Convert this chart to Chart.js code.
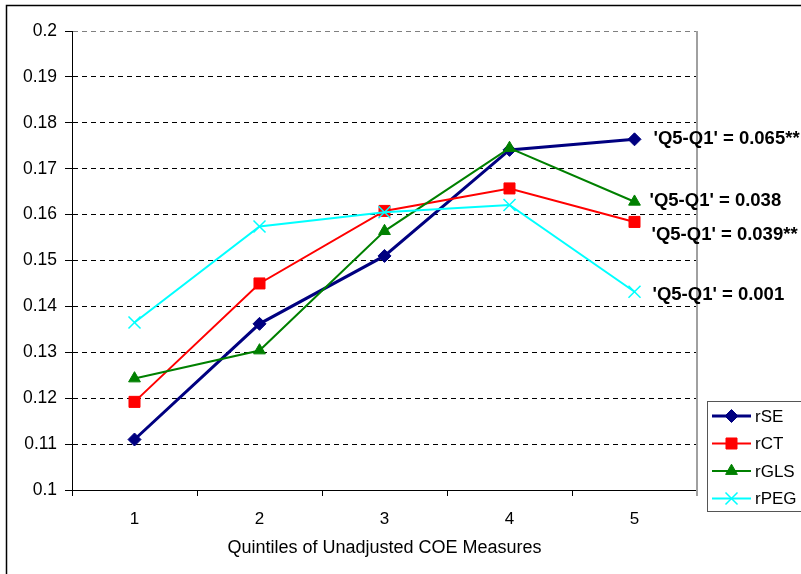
<!DOCTYPE html>
<html>
<head>
<meta charset="utf-8">
<script src="https://cdn.jsdelivr.net/npm/chart.js@4.4.0/dist/chart.umd.min.js"></script>
<style>
  html, body { margin: 0; padding: 0; background: #fff; }
  #wrap { width: 801px; height: 574px; }
</style>
</head>
<body>
<div id="wrap"><canvas id="coeChart" width="801" height="574"></canvas></div>
<script>
// Data
const quintiles = ['1', '2', '3', '4', '5'];
const rSE  = [0.1110, 0.1362, 0.1510, 0.1741, 0.1764];
const rCT  = [0.1192, 0.1450, 0.1608, 0.1657, 0.1584];
const rGLS = [0.1243, 0.1304, 0.1564, 0.1745, 0.1628];
const rPEG = [0.1365, 0.1574, 0.1605, 0.1621, 0.1432];
const seriesNames = ['rSE', 'rCT', 'rGLS', 'rPEG'];
const spreadLabels = ["'Q5-Q1' = 0.065**", "'Q5-Q1' = 0.039**", "'Q5-Q1' = 0.038", "'Q5-Q1' = 0.001"];
const yTickLabels = ['0.1', '0.11', '0.12', '0.13', '0.14', '0.15', '0.16', '0.17', '0.18', '0.19', '0.2'];

const FONT = "'Liberation Sans', Arial, sans-serif";

// outer frame + right plot border
const framePlugin = {
    id: 'frame',
    beforeDraw(chart) {
        const ctx = chart.ctx;
        ctx.save();
        ctx.fillStyle = '#fff';
        ctx.fillRect(0, 0, chart.width, chart.height);
        ctx.strokeStyle = '#000';
        ctx.lineWidth = 1.5;
        ctx.strokeRect(6.5, 5.5, 900, 900);
        ctx.restore();
    },
    beforeDatasetsDraw(chart) {
        const {ctx, chartArea} = chart;
        ctx.save();
        ctx.strokeStyle = '#a0a0a0';
        ctx.lineWidth = 2;
        ctx.beginPath();
        ctx.moveTo(chartArea.right, chartArea.top);
        ctx.lineTo(chartArea.right, chartArea.bottom + 6);
        ctx.stroke();
        ctx.restore();
    }
};

// Q5-Q1 labels next to the last point, and the boxed legend
const labelPlugin = {
    id: 'spreadLabels',
    afterDatasetsDraw(chart) {
        const ctx = chart.ctx;
        const offs = [[19, 0], [17, 13], [15, -1], [18, 3]];
        ctx.save();
        ctx.font = 'bold 18.5px ' + FONT;
        ctx.fillStyle = '#000';
        ctx.textBaseline = 'middle';
        ctx.textAlign = 'left';
        chart.data.datasets.forEach((ds, i) => {
            const pt = chart.getDatasetMeta(i).data[4];
            ctx.fillText(spreadLabels[i], pt.x + offs[i][0], pt.y + offs[i][1]);
        });

        // legend
        ctx.fillStyle = '#fff';
        ctx.fillRect(707, 401, 100, 111);
        ctx.strokeStyle = '#555';
        ctx.lineWidth = 1;
        ctx.strokeRect(707.5, 401.5, 100, 110);
        ctx.font = '17px ' + FONT;
        chart.data.datasets.forEach((ds, i) => {
            const y = 416 + i * 27.5;
            ctx.strokeStyle = ds.borderColor;
            ctx.lineWidth = ds.borderWidth;
            ctx.beginPath();
            ctx.moveTo(712, y);
            ctx.lineTo(751, y);
            ctx.stroke();
            ctx.fillStyle = ds.pointBackgroundColor;
            ctx.strokeStyle = ds.pointBorderColor;
            ctx.lineWidth = ds.pointBorderWidth;
            Chart.helpers.drawPoint(ctx, {
                pointStyle: ds.pointStyle, radius: ds.pointRadius,
                borderWidth: ds.pointBorderWidth, rotation: 0
            }, 731.5, y);
            ctx.fillStyle = '#000';
            ctx.fillText(seriesNames[i], 755, y + 1);
        });
        ctx.restore();
    }
};

function series(label, data, color, width, style, radius, bw, order) {
    return {
        label: label,
        data: data,
        borderColor: color,
        borderWidth: width,
        backgroundColor: color,
        pointStyle: style,
        pointRadius: radius,
        pointHoverRadius: radius,
        pointBackgroundColor: color,
        pointBorderColor: color,
        pointBorderWidth: bw,
        tension: 0,
        order: order
    };
}

new Chart(document.getElementById('coeChart'), {
    type: 'line',
    data: {
        labels: quintiles,
        datasets: [
            series('rSE', rSE, '#000080', 3, 'rectRot', 6.5, 1, 4),
            series('rCT', rCT, '#ff0000', 2, 'rect', 7.8, 1, 3),
            series('rGLS', rGLS, '#008000', 2, 'triangle', 6.8, 1, 2),
            series('rPEG', rPEG, '#00ffff', 2, 'crossRot', 8.5, 1.5, 1)
        ]
    },
    options: {
        responsive: false,
        animation: false,
        devicePixelRatio: 1,
        layout: { padding: { left: 0, top: 31, right: 104, bottom: 0 } },
        plugins: {
            legend: { display: false },
            tooltip: { enabled: false },
            title: { display: false }
        },
        scales: {
            x: {
                type: 'category',
                offset: true,
                afterFit(scale) { scale.height = 84; },
                grid: {
                    offset: true,
                    drawOnChartArea: false,
                    drawTicks: true,
                    tickLength: 6,
                    color: '#000'
                },
                border: { color: '#000', width: 1 },
                ticks: {
                    color: '#000',
                    font: { family: FONT, size: 17 },
                    padding: 13
                },
                title: {
                    display: true,
                    text: 'Quintiles of Unadjusted COE Measures',
                    color: '#000',
                    font: { family: FONT, size: 18 },
                    padding: { top: 0, bottom: 15 }
                }
            },
            y: {
                min: 0.1,
                max: 0.2,
                afterFit(scale) { scale.width = 72; },
                grid: {
                    color: (c) => (c.tick && Math.abs(c.tick.value - 0.2) < 1e-9) ? '#808080' : '#000',
                    tickColor: '#000',
                    tickLength: 7,
                    lineWidth: 1
                },
                border: { color: '#000', width: 1, dash: [5, 4] },
                ticks: {
                    stepSize: 0.01,
                    color: '#000',
                    font: { family: FONT, size: 17.5 },
                    padding: 8,
                    callback: (v) => yTickLabels[Math.round((v - 0.1) / 0.01)]
                }
            }
        }
    },
    plugins: [framePlugin, labelPlugin]
});
</script>
</body>
</html>
